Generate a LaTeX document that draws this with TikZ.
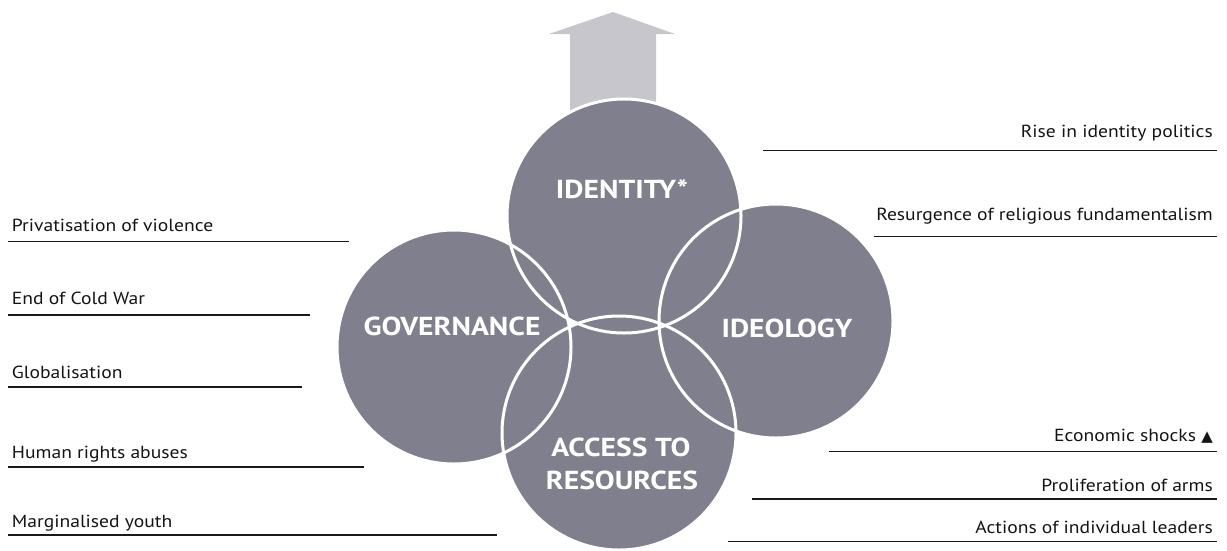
\documentclass[tikz,border=0pt]{standalone}
\usepackage{fontspec}
\setmainfont{PT Sans}
\newfontfamily\bodyfont[FakeStretch=1.12]{PT Sans}
\newfontfamily\labfont[FakeStretch=1.14]{PT Sans Bold}
\newfontfamily\symfont{DejaVu Sans}
\definecolor{circfill}{RGB}{128,127,141}
\definecolor{arrowfill}{RGB}{198,198,204}
\definecolor{textcol}{RGB}{20,20,20}
\begin{document}
\begin{tikzpicture}[x=1pt,y=-1pt,
  circ/.style={circle,minimum size=234pt,inner sep=0pt,fill=circfill},
  ring/.style={draw=white,line width=3pt},
  ctext/.style={text=white,font=\labfont\fontsize{26}{31}\selectfont,align=center},
  ltext/.style={anchor=base west,inner sep=0pt,text=textcol,font=\bodyfont\fontsize{17.5}{20}\selectfont},
  rtext/.style={anchor=base east,inner sep=0pt,text=textcol,font=\bodyfont\fontsize{17.5}{20}\selectfont},
  uline/.style={draw=black!90,line width=1.3pt}]
\useasboundingbox (0,0) rectangle (1227,550);
% arrow
\fill[arrowfill] (570,130) -- (570,34) -- (549,34) -- (613,12) -- (675,34) -- (656,34) -- (656,130) -- cycle;
% circles
\node[circ] (ident) at (624,216) {};
\node[circ] (ideo) at (776,321) {};
\node[circ] (gov) at (454,347) {};
\node[circ] (acc) at (619,433) {};
\foreach \c in {ident,ideo,gov,acc}{\draw[ring] (\c) circle (117);}
% circle labels
\node[ctext,anchor=base] (tident) at (622,198.5) {IDENTITY*};
\node[ctext,anchor=base] (tgov) at (452,335) {GOVERNANCE};
\node[ctext,anchor=base] (tideo) at (787,337) {IDEOLOGY};
\node[ctext,anchor=base] (tacc1) at (621,456) {ACCESS TO};
\node[ctext,anchor=base] (tacc2) at (622,489.5) {RESOURCES};
% left labels
\node[ltext] (l1) at (11.7,231.7) {Privatisation of violence};
\node[ltext] (l2) at (11.7,304) {End of Cold War};
\node[ltext] (l3) at (11.7,378) {Globalisation};
\node[ltext] (l4) at (11.7,458) {Human rights abuses};
\node[ltext] (l5) at (11.7,527) {Marginalised youth};
\draw[uline] (8,241.7) coordinate (a1) -- (349,241.7) coordinate (b1);
\draw[uline] (8,315) coordinate (a2) -- (310,315) coordinate (b2);
\draw[uline] (8,387) coordinate (a3) -- (302,387) coordinate (b3);
\draw[uline] (8,467) coordinate (a4) -- (364,467) coordinate (b4);
\draw[uline] (8,535) coordinate (a5) -- (497,535) coordinate (b5);
% right labels
\node[rtext] (r1) at (1213,137.7) {Rise in identity politics};
\node[rtext] (r2) at (1213,220) {Resurgence of religious fundamentalism};
\node[rtext] (r3) at (1213,441.7) {Economic shocks {\symfont\fontsize{15}{18}\selectfont ▲}};
\node[rtext] (r4) at (1213,491.7) {Proliferation of arms};
\node[rtext] (r5) at (1213,533) {Actions of individual leaders};
\draw[uline] (763,150.7) coordinate (c1) -- (1217,150.7) coordinate (d1);
\draw[uline] (874,236.7) coordinate (c2) -- (1217,236.7) coordinate (d2);
\draw[uline] (829,451.7) coordinate (c3) -- (1217,451.7) coordinate (d3);
\draw[uline] (752,499) coordinate (c4) -- (1217,499) coordinate (d4);
\draw[uline] (728,541.7) coordinate (c5) -- (1217,541.7) coordinate (d5);
\end{tikzpicture}
\end{document}
